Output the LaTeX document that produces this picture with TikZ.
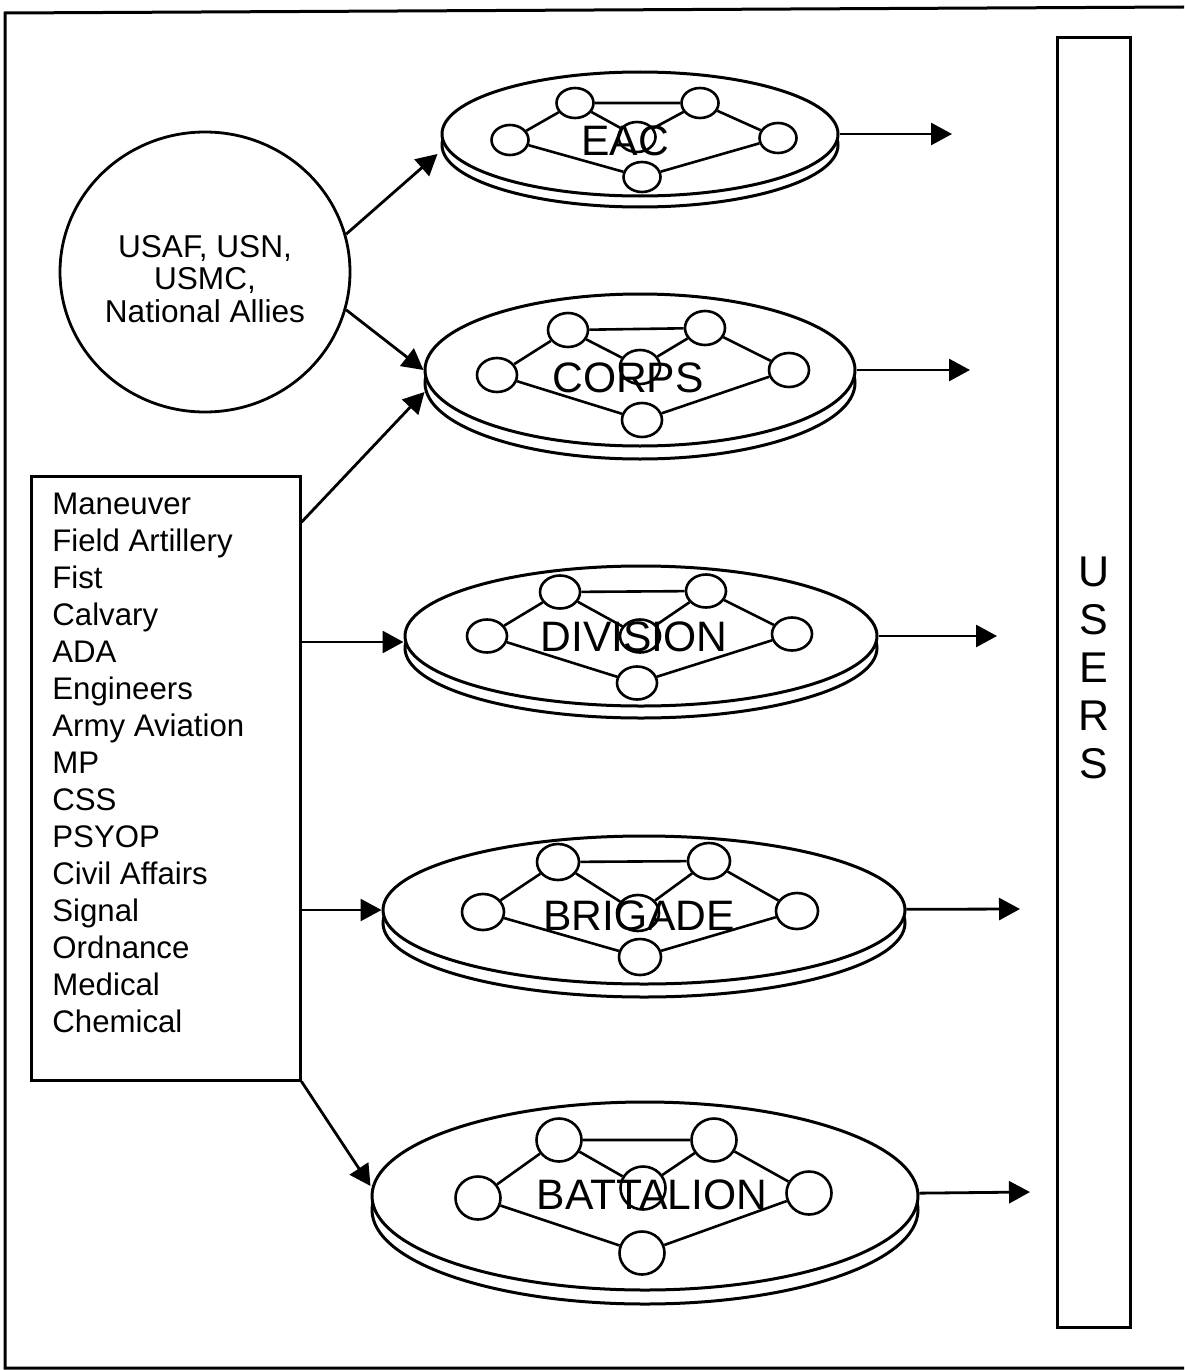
\documentclass[tikz,border=0pt]{standalone}
\usepackage{fontspec}
\setmainfont{Liberation Sans}
\usetikzlibrary{shapes.geometric,arrows.meta,calc}

% font sizes (1 drawing unit = 0.5pt)
\newcommand\alliesfont{\fontsize{15.8pt}{16.25pt}\selectfont}
\newcommand\listfont{\fontsize{15.6pt}{18.5pt}\selectfont}
\newcommand\levelfont{\fontsize{21.3pt}{24pt}\selectfont}
\newcommand\usersfont{\fontsize{21.5pt}{23.9pt}\selectfont}

% a command echelon: a thick platter (top face plus lower rim)
% #1 name, #2 cx, #3 cy, #4 half width (pt), #5 half height (pt), #6 rim offset
\newcommand\platter[6]{%
  \node[plate, minimum width=#4pt, minimum height=#5pt] (#1-low) at (#2,#3+#6) {};
  \node[plate, minimum width=#4pt, minimum height=#5pt] (#1) at (#2,#3) {};}

% the small network drawn on a platter
% #1 name, #2..#7 positions of left, upper-left, upper-right, right, bottom, centre sites,
% #8 site width (pt), #9 site height (pt)
\newcommand\network[9]{%
  \node[site, minimum width=#8pt, minimum height=#9pt] (#1-l)  at (#2) {};
  \node[site, minimum width=#8pt, minimum height=#9pt] (#1-ul) at (#3) {};
  \node[site, minimum width=#8pt, minimum height=#9pt] (#1-ur) at (#4) {};
  \node[site, minimum width=#8pt, minimum height=#9pt] (#1-r)  at (#5) {};
  \node[site, minimum width=#8pt, minimum height=#9pt] (#1-b)  at (#6) {};
  \node[site, minimum width=#8pt, minimum height=#9pt] (#1-c)  at (#7) {};
  \draw[link] (#1-l) -- (#1-ul) -- (#1-ur) -- (#1-r) -- (#1-b) -- (#1-l);
  \draw[link] (#1-ul) -- (#1-c) -- (#1-ur);}

\begin{document}
\begin{tikzpicture}[x=0.5pt, y=-0.5pt,
  plate/.style={ellipse, draw, fill=white, inner sep=0pt, line width=1.5pt},
  site/.style={ellipse, draw, fill=white, inner sep=0pt, line width=1.3pt},
  link/.style={line width=1.3pt},
  feed/.style={line width=1.4pt, -{Triangle[length=10.5pt, width=11pt]}},
  box/.style={draw, inner sep=0pt, line width=1.5pt},
  level/.style={font=\levelfont, inner sep=0pt}]

\useasboundingbox (0,0) rectangle (1184,1370);

% page frame
\draw[line width=1.5pt] (1184,7) -- (5,13) -- (5,1368) -- (1184,1368);

% other services and allies (multi-line texts are anchored on their last baseline)
\node[ellipse, draw, line width=1.4pt, minimum width=145pt, minimum height=140pt, inner sep=0pt]
  (allies) at (205,272) {};
\node[font=\alliesfont, align=center, inner sep=0pt, anchor=base] (allies-text) at (205,322)
  {USAF, USN,\\USMC,\\National Allies};

% army branches
\node[box, minimum width=134.5pt, minimum height=302pt] (units) at (165.5,778) {};
\node[font=\listfont, align=left, inner sep=0pt, anchor=base west] (units-text) at (52,1032)
  {Maneuver\\Field Artillery\\Fist\\Calvary\\ADA\\Engineers\\Army Aviation\\MP\\CSS\\PSYOP\\Civil Affairs\\Signal\\Ordnance\\Medical\\Chemical};

% users column
\node[box, minimum width=36.5pt, minimum height=644.5pt] (users) at (1093.5,682.5) {};
\node[font=\usersfont, align=center, inner sep=0pt, anchor=base] (users-text) at (1094,778)
  {U\\S\\E\\R\\S};

% echelons
\platter{eac}{640}{134}{198}{62}{11}
\network{eac}{510,140}{575,103}{700,103}{778,138}{642,177}{637,137}{18.5}{15}
\node[level] (eac-name) at (625,141) {EAC};

\platter{corps}{640}{370}{215}{76}{13}
\network{corps}{497,375}{568,330}{705,328}{789,370}{642,420}{640,367}{20}{17}
\node[level] (corps-name) at (628,378) {CORPS};

\platter{div}{641}{636}{236}{70}{12}
\network{div}{487,636}{560,592}{706,591}{792,634}{637,683}{640,636}{20}{16.5}
\node[level] (div-name) at (634,637) {DIVISION};

\platter{brig}{644}{910}{261}{74}{13}
\network{brig}{483,912}{558,862}{709,861}{797,911}{640,957}{638,913}{21}{18}
\node[level] (brig-name) at (639,916) {BRIGADE};

\platter{batt}{645}{1196}{273}{94}{14}
\network{batt}{478,1198}{559,1140}{714,1140}{809,1193}{642,1253}{643,1188}{22.5}{21.5}
\node[level] (batt-name) at (652,1195) {BATTALION};

% inputs
\draw[feed] (allies.15) -- ([shift={(-3,9)}]eac-low.west);
\draw[feed] (allies.-15) -- (corps.west);
\draw[feed] (units.62) -- ([shift={(1,9)}]corps-low.west);
\coordinate (div-in) at ([yshift=-3pt]div.west);
\draw[feed] (units.east |- div-in) -- (div-in);
\draw[feed] (units.east |- brig.west) -- (brig.west);
\draw[feed] (units.south east) -- ([yshift=5pt]batt.west);

% outputs towards the users
\coordinate (eac-out) at (952,134);
\coordinate (corps-out) at (970,370);
\coordinate (div-out) at (997,636);
\coordinate (brig-out) at (1020,909);
\coordinate (batt-out) at (1030,1192);
\foreach \e in {eac, corps, div, brig, batt}
  \draw[feed] (\e) -- (\e-out);

\end{tikzpicture}
\end{document}
